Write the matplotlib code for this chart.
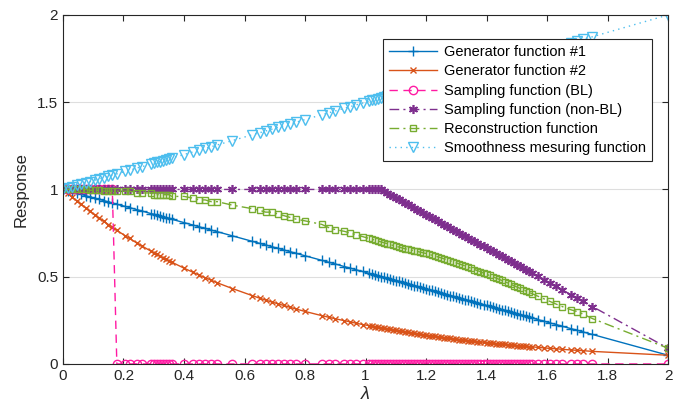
import matplotlib
matplotlib.use("Agg")
import matplotlib.pyplot as plt
import numpy as np

plt.rcParams['font.family'] = ['Liberation Sans', 'DejaVu Sans']
plt.rcParams['mathtext.fontset'] = 'custom'
plt.rcParams['mathtext.it'] = 'Liberation Sans:italic'

# graph frequencies (eigenvalues)
lam = [0.000, 0.015, 0.03, 0.045, 0.06, 0.075, 0.09, 0.105, 0.12, 0.135, 0.15, 0.163,
       0.178, 0.205, 0.22, 0.245, 0.26,
       0.29, 0.30, 0.31, 0.32, 0.33, 0.34, 0.35, 0.36,
       0.40, 0.43, 0.45, 0.47, 0.49, 0.51, 0.56,
       0.625, 0.65, 0.67, 0.69, 0.71, 0.73, 0.75, 0.77, 0.80,
       0.855, 0.88, 0.90, 0.93, 0.95, 0.97, 0.99, 1.01,
       1.02, 1.03, 1.04, 1.05, 1.06, 1.07, 1.08, 1.09, 1.10, 1.11, 1.12, 1.13, 1.14,
       1.15, 1.16, 1.17, 1.18, 1.19, 1.20, 1.21, 1.22, 1.23, 1.24, 1.25, 1.26, 1.27,
       1.28, 1.29, 1.30, 1.31, 1.32, 1.33, 1.34, 1.35, 1.36, 1.37, 1.38, 1.39, 1.40,
       1.41, 1.42, 1.43, 1.44, 1.45, 1.46, 1.47, 1.48, 1.49, 1.50, 1.51, 1.52, 1.53, 1.54,
       1.55, 1.57, 1.59, 1.61, 1.63, 1.65,
       1.68, 1.70, 1.72, 1.75, 2.00]

gen1 = [1.0, 0.993, 0.986, 0.979, 0.972, 0.964, 0.957, 0.950, 0.943, 0.936, 0.929, 0.923,
        0.915, 0.903, 0.896, 0.884, 0.877,
        0.862, 0.858, 0.853, 0.848, 0.843, 0.839, 0.834, 0.829,
        0.810, 0.796, 0.786, 0.777, 0.767, 0.758, 0.734,
        0.703, 0.691, 0.682, 0.672, 0.663, 0.653, 0.644, 0.634, 0.620,
        0.594, 0.582, 0.573, 0.558, 0.549, 0.539, 0.530, 0.520,
        0.516, 0.511, 0.506, 0.501, 0.497, 0.492, 0.487, 0.482, 0.478, 0.473, 0.468, 0.463, 0.459,
        0.454, 0.449, 0.444, 0.440, 0.435, 0.430, 0.425, 0.421, 0.416, 0.411, 0.406, 0.402, 0.397,
        0.392, 0.387, 0.383, 0.378, 0.373, 0.368, 0.364, 0.359, 0.354, 0.349, 0.345, 0.340, 0.335,
        0.330, 0.326, 0.321, 0.316, 0.311, 0.307, 0.302, 0.297, 0.292, 0.288, 0.283, 0.278, 0.273, 0.269,
        0.264, 0.254, 0.245, 0.235, 0.226, 0.216,
        0.202, 0.193, 0.183, 0.169, 0.050]

gen2 = [1.0, 0.978, 0.956, 0.935, 0.914, 0.894, 0.874, 0.854, 0.835, 0.817, 0.799, 0.783,
        0.766, 0.735, 0.719, 0.692, 0.677,
        0.647, 0.638, 0.628, 0.619, 0.610, 0.600, 0.592, 0.583,
        0.549, 0.525, 0.509, 0.494, 0.480, 0.465, 0.432,
        0.392, 0.377, 0.366, 0.355, 0.345, 0.335, 0.325, 0.315, 0.301,
        0.277, 0.267, 0.259, 0.248, 0.241, 0.233, 0.226, 0.220,
        0.217, 0.213, 0.210, 0.207, 0.204, 0.201, 0.198, 0.195, 0.192, 0.189, 0.186, 0.184, 0.181,
        0.178, 0.176, 0.173, 0.170, 0.168, 0.165, 0.163, 0.160, 0.158, 0.156, 0.153, 0.151, 0.149,
        0.147, 0.144, 0.142, 0.140, 0.138, 0.136, 0.134, 0.132, 0.130, 0.128, 0.126, 0.124, 0.122,
        0.121, 0.119, 0.117, 0.115, 0.114, 0.112, 0.110, 0.109, 0.107, 0.105, 0.104, 0.102, 0.101, 0.099,
        0.098, 0.095, 0.092, 0.089, 0.087, 0.084,
        0.080, 0.078, 0.076, 0.072, 0.050]

samp_bl = [1, 1, 1, 1, 1, 1, 1, 1, 1, 1, 1, 1,
           0, 0, 0, 0, 0,
           0, 0, 0, 0, 0, 0, 0, 0,
           0, 0, 0, 0, 0, 0, 0,
           0, 0, 0, 0, 0, 0, 0, 0, 0,
           0, 0, 0, 0, 0, 0, 0, 0,
           0, 0, 0, 0, 0, 0, 0, 0, 0, 0, 0, 0, 0,
           0, 0, 0, 0, 0, 0, 0, 0, 0, 0, 0, 0, 0,
           0, 0, 0, 0, 0, 0, 0, 0, 0, 0, 0, 0, 0,
           0, 0, 0, 0, 0, 0, 0, 0, 0, 0, 0, 0, 0, 0,
           0, 0, 0, 0, 0, 0,
           0, 0, 0, 0, 0]

samp_nbl = [1, 1, 1, 1, 1, 1, 1, 1, 1, 1, 1, 1,
            1, 1, 1, 1, 1,
            1, 1, 1, 1, 1, 1, 1, 1,
            1, 1, 1, 1, 1, 1, 1,
            1, 1, 1, 1, 1, 1, 1, 1, 1,
            1, 1, 1, 1, 1, 1, 1, 1,
            1, 1, 1, 1, 0.990, 0.981, 0.971, 0.962, 0.952, 0.943, 0.933, 0.923, 0.914,
            0.904, 0.895, 0.885, 0.875, 0.866, 0.856, 0.847, 0.837, 0.828, 0.818, 0.808, 0.799, 0.789,
            0.780, 0.770, 0.761, 0.751, 0.741, 0.732, 0.722, 0.713, 0.703, 0.693, 0.684, 0.674, 0.665,
            0.655, 0.646, 0.636, 0.626, 0.617, 0.607, 0.598, 0.588, 0.578, 0.569, 0.559, 0.550, 0.540, 0.531,
            0.521, 0.502, 0.483, 0.464, 0.444, 0.425,
            0.396, 0.377, 0.358, 0.329, 0.090]

recon = [1.0, 1.0, 1.0, 1.0, 1.0, 1.0, 0.995, 0.995, 0.995, 0.99, 0.99, 0.99,
         0.99, 0.99, 0.99, 0.98, 0.98,
         0.98, 0.97, 0.97, 0.97, 0.97, 0.97, 0.97, 0.96,
         0.96, 0.95, 0.94, 0.94, 0.93, 0.93, 0.91,
         0.89, 0.88, 0.87, 0.87, 0.86, 0.85, 0.84, 0.83, 0.82,
         0.80, 0.78, 0.77, 0.76, 0.75, 0.74, 0.73, 0.72,
         0.715, 0.710, 0.705, 0.700, 0.695, 0.690, 0.685, 0.680, 0.675, 0.670, 0.665, 0.660, 0.657,
         0.653, 0.649, 0.645, 0.641, 0.637, 0.633, 0.628, 0.623, 0.618, 0.613, 0.608, 0.602, 0.597,
         0.591, 0.585, 0.579, 0.573, 0.567, 0.561, 0.554, 0.548, 0.541, 0.535, 0.528, 0.521, 0.514,
         0.507, 0.500, 0.493, 0.486, 0.479, 0.471, 0.464, 0.456, 0.449, 0.441, 0.434, 0.426, 0.418, 0.411,
         0.403, 0.388, 0.373, 0.358, 0.343, 0.329,
         0.310, 0.300, 0.285, 0.260, 0.090]

smooth = [1.0, 1.008, 1.015, 1.023, 1.030, 1.038, 1.045, 1.053, 1.060, 1.068, 1.075, 1.082,
          1.089, 1.103, 1.110, 1.123, 1.130,
          1.145, 1.150, 1.155, 1.160, 1.165, 1.170, 1.175, 1.180,
          1.200, 1.215, 1.225, 1.235, 1.245, 1.255, 1.280,
          1.313, 1.325, 1.335, 1.345, 1.355, 1.365, 1.375, 1.385, 1.400,
          1.428, 1.440, 1.450, 1.465, 1.475, 1.485, 1.495, 1.505,
          1.510, 1.515, 1.520, 1.525, 1.530, 1.535, 1.540, 1.545, 1.550, 1.555, 1.560, 1.565, 1.570,
          1.575, 1.580, 1.585, 1.590, 1.595, 1.600, 1.605, 1.610, 1.615, 1.620, 1.625, 1.630, 1.635,
          1.640, 1.645, 1.650, 1.655, 1.660, 1.665, 1.670, 1.675, 1.680, 1.685, 1.690, 1.695, 1.700,
          1.705, 1.710, 1.715, 1.720, 1.725, 1.730, 1.735, 1.740, 1.745, 1.750, 1.755, 1.760, 1.765, 1.770,
          1.775, 1.785, 1.795, 1.805, 1.815, 1.825,
          1.840, 1.850, 1.860, 1.875, 2.000]

fig = plt.figure(figsize=(6.81, 4.15), dpi=100)
ax = fig.add_axes([0.0925, 0.123, 0.8885, 0.841])

lw = 1.0
ax.plot(lam, gen1, color='#0072BD', ls='-', lw=lw, marker='+', ms=7, mew=1.0,
        label='Generator function #1')
ax.plot(lam, gen2, color='#D95319', ls='-', lw=lw, marker='x', ms=5, mew=1.0,
        label='Generator function #2')
ax.plot(lam, samp_bl, color='#FF1AA3', ls=(0, (6, 4)), lw=lw, marker='o', ms=6, mew=1.0,
        mfc='none', label='Sampling function (BL)')
ax.plot(lam, samp_nbl, color='#7E2F8E', ls=(0, (7, 3, 1.5, 3)), lw=lw, marker=(6, 2, 0), ms=6.5,
        mew=1.2, label='Sampling function (non-BL)')
ax.plot(lam, recon, color='#77AC30', ls=(0, (7, 3, 1.5, 3)), lw=lw, marker='s', ms=5, mew=1.0,
        mfc='none', label='Reconstruction function')
ax.plot(lam, smooth, color='#4DBEEE', ls=(0, (1, 3)), lw=lw, marker='v', ms=7, mew=1.0,
        mfc='none', label='Smoothness mesuring function')

ax.set_xlim(0, 2)
ax.set_ylim(0, 2)
ax.set_xticks(np.arange(0, 2.01, 0.2))
ax.set_xticklabels(['0', '0.2', '0.4', '0.6', '0.8', '1', '1.2', '1.4', '1.6', '1.8', '2'])
ax.set_yticks([0, 0.5, 1, 1.5, 2])
ax.set_yticklabels(['0', '0.5', '1', '1.5', '2'])
ax.grid(axis='y', color='#dedede', lw=0.8)
ax.set_axisbelow(True)
ax.tick_params(direction='in', length=4, width=0.8, colors='#262626', labelsize=11,
               top=True, right=True)
for s in ax.spines.values():
    s.set_color('#262626')
    s.set_linewidth(0.8)

ax.set_xlabel(r'$\mathit{\lambda}$', fontsize=13, color='#262626', labelpad=2)
ax.set_ylabel('Response', fontsize=12, color='#262626', labelpad=6)

leg = ax.legend(loc='upper right', bbox_to_anchor=(0.974, 0.93), fontsize=10.5, frameon=True,
                fancybox=False, edgecolor='#262626', framealpha=1, borderpad=0.4,
                labelspacing=0.36, handlelength=3.3, handletextpad=0.5, borderaxespad=0)
leg.get_frame().set_linewidth(0.8)

fig.savefig('out.png', dpi=100)
